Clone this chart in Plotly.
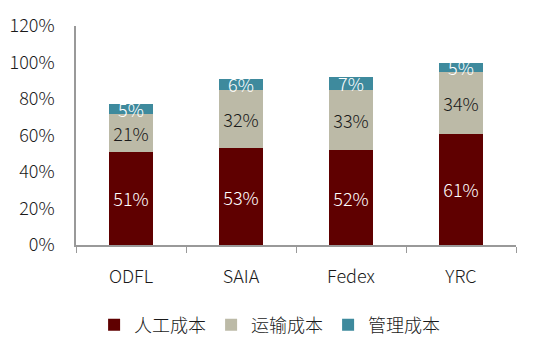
import plotly.graph_objects as go

categories = ["ODFL", "SAIA", "Fedex", "YRC"]
labor = [0.51, 0.53, 0.52, 0.61]
transport = [0.21, 0.32, 0.33, 0.34]
management = [0.05, 0.06, 0.07, 0.05]
series_names = ["人工成本", "运输成本", "管理成本"]
y_ticks = [0, 0.2, 0.4, 0.6, 0.8, 1.0, 1.2]

font_family = "Noto Sans CJK SC, Noto Sans, sans-serif"
W = 300
TXT = "#1a1a1a"

fig = go.Figure()
specs = [
    (labor, series_names[0], "#5F0000", "white"),
    (transport, series_names[1], "#BCBAA7", TXT),
    (management, series_names[2], "#3E8A9D", "white"),
]
for vals, name, color, tcolor in specs:
    fig.add_trace(go.Bar(
        x=categories, y=vals, name=name,
        marker=dict(color=color, line=dict(width=0)),
        text=[f"{round(v*100)}%" for v in vals],
        textposition="inside", insidetextanchor="middle", textangle=0,
        textfont=dict(color=tcolor, size=18, family=font_family, weight=W),
        width=0.4,
    ))

fig.update_layout(
    barmode="stack",
    width=550, height=355,
    margin=dict(l=76, r=34, t=26, b=110),
    plot_bgcolor="white", paper_bgcolor="white",
    font=dict(family=font_family, size=18, color=TXT, weight=W),
    uniformtext=dict(minsize=18, mode="show"),
    showlegend=True,
    legend=dict(orientation="h", x=0.44, xanchor="center", y=-0.365, yanchor="middle",
                font=dict(size=18, color=TXT, weight=W), itemwidth=30,
                traceorder="normal"),
    xaxis=dict(showline=True, linecolor="#999999", linewidth=1.5, ticks="outside",
               tickson="boundaries", ticklen=6, tickcolor="#999999", showgrid=False,
               ticklabelstandoff=15, automargin=False,
               tickfont=dict(size=18, color=TXT, weight=W)),
    yaxis=dict(range=[0, 1.2], tickvals=y_ticks, tickformat=".0%", showline=True,
               linecolor="#999999", linewidth=1.5, showgrid=False, ticks="",
               ticklabelstandoff=16, automargin=False,
               zeroline=False, tickfont=dict(size=18, color=TXT, weight=W)),
)

fig.write_html("out.html", config={"displayModeBar": False},
               post_script="document.body.style.margin='0';")
